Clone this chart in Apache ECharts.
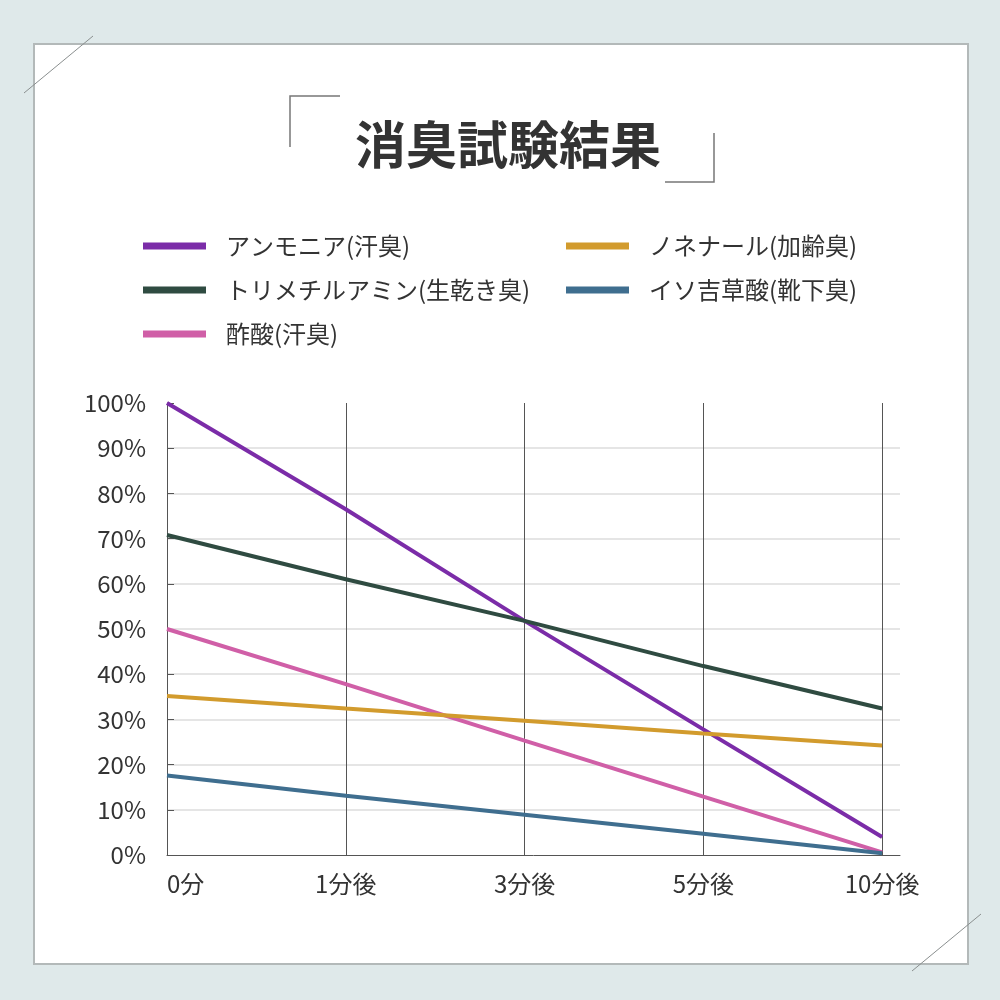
<!DOCTYPE html>
<html>
<head>
<meta charset="utf-8">
<script src="https://cdn.jsdelivr.net/npm/echarts@6/dist/echarts.min.js"></script>
<style>
html,body{margin:0;padding:0;background:#dfe9ea;}
#chart{width:1000px;height:1000px;}
</style>
</head>
<body>
<div id="chart"></div>
<script>
const titleText = '消臭試験結果';
const categories = ['0分', '1分後', '3分後', '5分後', '10分後'];
const yTicks = [0, 10, 20, 30, 40, 50, 60, 70, 80, 90, 100];
const seriesNames = ['アンモニア(汗臭)', 'トリメチルアミン(生乾き臭)', '酢酸(汗臭)', 'ノネナール(加齢臭)', 'イソ吉草酸(靴下臭)'];
const ammonia = [100, 76.5, 51.8, 27.8, 4];
const trimethylamine = [70.8, 61, 51.8, 41.8, 32.4];
const aceticAcid = [50, 37.8, 25.3, 12.9, 0.6];
const nonenal = [35.2, 32.4, 29.7, 26.9, 24.2];
const isovaleric = [17.6, 13.1, 8.9, 4.7, 0.4];
const colors = ['#7b2ca8', '#2f4b41', '#d05fa7', '#d29b2d', '#3f6e8f'];

const seriesValues = [ammonia, trimethylamine, aceticAcid, nonenal, isovaleric];
const FONT = '"Noto Sans CJK JP", "Noto Sans", sans-serif';

const chart = echarts.init(document.getElementById('chart'), null, {renderer: 'canvas'});

const option = {
  backgroundColor: '#dfe9ea',
  animation: false,
  graphic: [
    {type: 'rect', z: -10, shape: {x: 34, y: 44, width: 934, height: 920}, style: {fill: '#ffffff', stroke: '#b3b9b9', lineWidth: 2}},
    {type: 'line', z: -5, shape: {x1: 24, y1: 93, x2: 93, y2: 36}, style: {stroke: '#8a8f8f', lineWidth: 1}},
    {type: 'line', z: -5, shape: {x1: 912, y1: 971, x2: 981, y2: 914}, style: {stroke: '#8a8f8f', lineWidth: 1}},
    {type: 'polyline', shape: {points: [[290, 147], [290, 96], [340, 96]]}, style: {stroke: '#777', lineWidth: 1.5, fill: null}},
    {type: 'polyline', shape: {points: [[665, 182], [714, 182], [714, 133]]}, style: {stroke: '#777', lineWidth: 1.5, fill: null}}
  ],
  title: {
    text: titleText,
    left: 503,
    top: 113,
    textAlign: 'center',
    textStyle: {fontFamily: FONT, fontSize: 51, fontWeight: 'bold', color: '#333333', lineHeight: 54}
  },
  legend: [
    {
      data: [seriesNames[0], seriesNames[1], seriesNames[2]],
      orient: 'vertical', left: 143, top: 234, padding: 0,
      itemWidth: 63, itemHeight: 7, itemGap: 20, icon: 'rect',
      textStyle: {fontFamily: FONT, fontSize: 24, color: '#333', lineHeight: 24, padding: [0, 0, 0, 15]}
    },
    {
      data: [seriesNames[3], seriesNames[4]],
      orient: 'vertical', left: 566, top: 234, padding: 0,
      itemWidth: 63, itemHeight: 7, itemGap: 20, icon: 'rect',
      textStyle: {fontFamily: FONT, fontSize: 24, color: '#333', lineHeight: 24, padding: [0, 0, 0, 15]}
    }
  ],
  grid: {left: 167, right: 100, top: 403, bottom: 145, containLabel: false},
  xAxis: {
    type: 'value', min: 0, max: 4.1, interval: 1,
    axisLine: {show: true, lineStyle: {color: '#555', width: 1}},
    axisTick: {show: false},
    splitLine: {show: true, showMinLine: false, showMaxLine: false, lineStyle: {color: '#555', width: 1}},
    axisLabel: {
      fontFamily: FONT, fontSize: 24, color: '#333', margin: 17,
      alignMinLabel: 'left', showMaxLabel: false,
      formatter: function (v) { return Number.isInteger(v) && categories[v] !== undefined ? categories[v] : ''; }
    }
  },
  yAxis: {
    type: 'value', min: yTicks[0], max: yTicks[yTicks.length - 1], interval: 10,
    axisLine: {show: true, lineStyle: {color: '#555', width: 1}},
    axisTick: {show: true, inside: true, length: 7, lineStyle: {color: '#555'}},
    splitLine: {show: true, showMinLine: false, showMaxLine: false, lineStyle: {color: '#dcdcdc', width: 1.5}},
    axisLabel: {fontFamily: FONT, fontSize: 24, color: '#333', margin: 21, formatter: '{value}%'}
  },
  series: seriesNames.map(function (name, i) {
    return {
      name: name,
      type: 'line',
      data: seriesValues[i].map(function (v, j) { return [j, v]; }),
      symbol: 'none',
      lineStyle: {width: 4, color: colors[i]},
      itemStyle: {color: colors[i]},
      z: 2 + i
    };
  })
};
chart.setOption(option);
</script>
</body>
</html>
